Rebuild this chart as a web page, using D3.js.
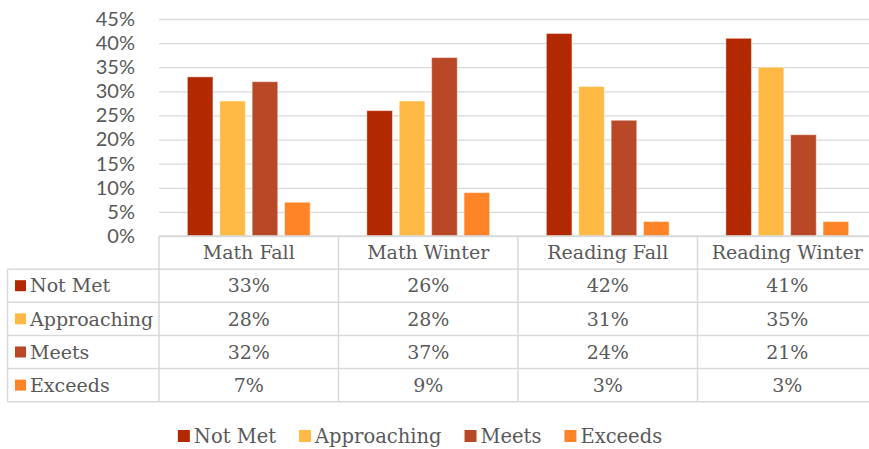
<!DOCTYPE html>
<html>
<head>
<meta charset="utf-8">
<script src="https://cdn.jsdelivr.net/npm/d3@7"></script>
<style>
  html, body { margin: 0; padding: 0; background: #fff; }
  svg { display: block; }
</style>
</head>
<body>
<svg id="chart" width="869" height="449"></svg>
<script>
const categories = ["Math Fall", "Math Winter", "Reading Fall", "Reading Winter"];
const seriesNames = ["Not Met", "Approaching", "Meets", "Exceeds"];
const notMet = [33, 26, 42, 41];
const approaching = [28, 28, 31, 35];
const meets = [32, 37, 24, 21];
const exceeds = [7, 9, 3, 3];
const yTicks = [0, 5, 10, 15, 20, 25, 30, 35, 40, 45];

const colors = ["#b22800", "#ffba45", "#b84826", "#ff8427"];
const valores = [notMet, approaching, meets, exceeds];

const W = 869;
const plot = { left: 159, right: 877, top: 19, bottom: 236 };
const tableBottom = 401.7;
const tableLeft = 7.5;
const grid = "#d9d9d9";
const textColor = "#595959";
const serif = "'DejaVu Serif', Georgia, serif";

const svg = d3.select("#chart");

const x = d3.scaleBand().domain(categories).range([plot.left, plot.right]);
const xs = d3.scaleBand().domain(seriesNames).range([0, x.bandwidth()])
  .paddingInner(0.21).paddingOuter(0.875);
const y = d3.scaleLinear().domain([0, 45]).range([plot.bottom, plot.top]);

// linhas de grade + rótulos do eixo
svg.append("g")
  .attr("transform", `translate(${plot.left},0)`)
  .call(d3.axisLeft(y).tickValues(yTicks).tickSize(-(plot.right - plot.left)).tickPadding(24).tickFormat((v) => v + "%"))
  .call((sel) => sel.select(".domain").remove())
  .call((sel) => sel.selectAll("line").attr("stroke", grid).attr("stroke-width", 1.3))
  .call((sel) => sel.selectAll("text")
    .attr("fill", textColor)
    .attr("font-family", "Lato, 'Open Sans', sans-serif")
    .attr("font-size", "20px"));

// barras
const barras = svg.append("g");
seriesNames.forEach((nome, si) => {
  barras.selectAll(null)
    .data(categories.map((c, ci) => ({ c, v: valores[si][ci] })))
    .join("rect")
    .attr("x", (d) => x(d.c) + xs(nome))
    .attr("width", xs.bandwidth())
    .attr("y", (d) => y(d.v))
    .attr("height", (d) => plot.bottom - y(d.v))
    .attr("fill", colors[si])
    .attr("stroke", "rgba(255,255,255,0.45)")
    .attr("stroke-width", 1);
});

// tabela de dados
const rows = d3.scaleBand().domain(["header", ...seriesNames]).range([plot.bottom, tableBottom]);
const tabela = svg.append("g").attr("stroke", grid).attr("stroke-width", 1.5).attr("fill", "none");

// linhas horizontais
tabela.selectAll("line.h")
  .data(seriesNames)
  .join("line")
  .attr("x1", tableLeft).attr("x2", W)
  .attr("y1", (d) => rows(d)).attr("y2", (d) => rows(d));
tabela.append("line")
  .attr("x1", tableLeft).attr("x2", W)
  .attr("y1", tableBottom).attr("y2", tableBottom);
tabela.append("line")
  .attr("x1", plot.left).attr("x2", W)
  .attr("y1", plot.bottom).attr("y2", plot.bottom);

// linhas verticais
tabela.selectAll("line.v")
  .data(categories)
  .join("line")
  .attr("x1", (d) => x(d)).attr("x2", (d) => x(d))
  .attr("y1", plot.bottom).attr("y2", tableBottom);
tabela.append("line")
  .attr("x1", tableLeft).attr("x2", tableLeft)
  .attr("y1", rows(seriesNames[0])).attr("y2", tableBottom);

const textos = svg.append("g")
  .attr("fill", textColor)
  .attr("font-family", serif)
  .attr("font-size", "19px");

textos.selectAll("text.cat")
  .data(categories)
  .join("text")
  .attr("x", (d) => x(d) + x.bandwidth() / 2)
  .attr("y", rows("header") + rows.bandwidth() / 2)
  .attr("dy", "0.35em")
  .attr("text-anchor", "middle")
  .text((d) => d);

seriesNames.forEach((nome, si) => {
  const yMeio = rows(nome) + rows.bandwidth() / 2;
  svg.append("rect")
    .attr("x", 15).attr("y", yMeio - 5.5)
    .attr("width", 11).attr("height", 11)
    .attr("fill", colors[si]);
  textos.append("text")
    .attr("x", 30).attr("y", yMeio).attr("dy", "0.35em")
    .text(nome);
  textos.selectAll(null)
    .data(categories.map((c, ci) => ({ c, v: valores[si][ci] })))
    .join("text")
    .attr("x", (d) => x(d.c) + x.bandwidth() / 2)
    .attr("y", yMeio).attr("dy", "0.35em")
    .attr("text-anchor", "middle")
    .text((d) => d.v + "%");
});

// legenda: largura medida do texto, centralizada sob o gráfico
const legenda = svg.append("g").attr("transform", "translate(0,436)");
const itens = legenda.selectAll("g")
  .data(seriesNames)
  .join("g");
itens.append("rect")
  .attr("y", -6).attr("width", 12).attr("height", 12)
  .attr("fill", (d, i) => colors[i]);
itens.append("text")
  .attr("x", 16).attr("dy", "0.35em")
  .attr("fill", textColor)
  .attr("font-family", serif)
  .attr("font-size", "19.5px")
  .text((d) => d);

const gap = 23;
const larguras = [];
itens.each(function () {
  larguras.push(16 + this.querySelector("text").getComputedTextLength());
});
const total = d3.sum(larguras) + gap * (larguras.length - 1);
let cursor = 420 - total / 2;
itens.attr("transform", (d, i) => {
  const t = `translate(${cursor},0)`;
  cursor += larguras[i] + gap;
  return t;
});
</script>
</body>
</html>
